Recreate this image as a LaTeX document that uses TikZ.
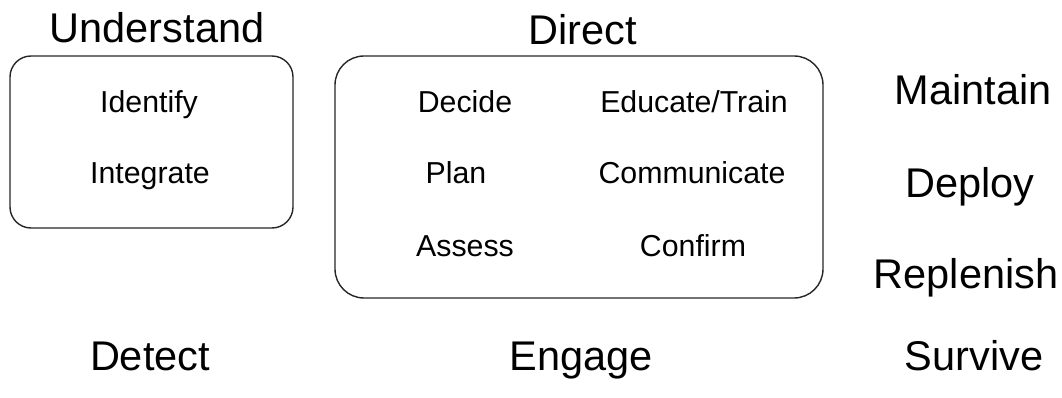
\documentclass[tikz,border=0pt]{standalone}
\usepackage{fontspec}
\setmainfont{Liberation Sans}
\begin{document}
\begin{tikzpicture}[x=1pt,y=-1pt,
  big/.style={anchor=base,inner sep=0pt,font=\fontsize{41.5}{45}\selectfont},
  small/.style={anchor=base,inner sep=0pt,font=\fontsize{30.3}{33}\selectfont},
  frame/.style={draw=black!85,line width=1.4pt}]
\useasboundingbox (0,0) rectangle (1062,398);
\draw[frame,rounded corners=21] (10,56) rectangle (293,228);
\draw[frame,rounded corners=29] (335,56) rectangle (823,298);
\node[big] (understand) at (157,43) {Understand};
\node[big] (direct) at (583,45) {Direct};
\node[small] (identify) at (149,113) {Identify};
\node[small] (integrate) at (150,184) {Integrate};
\node[small] (decide) at (465,113) {Decide};
\node[small] (educate) at (694,113) {Educate/Train};
\node[small] (plan) at (456,184) {Plan};
\node[small] (communicate) at (692,184) {Communicate};
\node[small] (assess) at (465,256) {Assess};
\node[small] (confirm) at (693,256) {Confirm};
\node[big] (maintain) at (973,105) {Maintain};
\node[big] (deploy) at (970,197) {Deploy};
\node[big] (replenish) at (966,288) {Replenish};
\node[big] (detect) at (150,370) {Detect};
\node[big] (engage) at (581,370) {Engage};
\node[big] (survive) at (974,370) {Survive};
\end{tikzpicture}
\end{document}
